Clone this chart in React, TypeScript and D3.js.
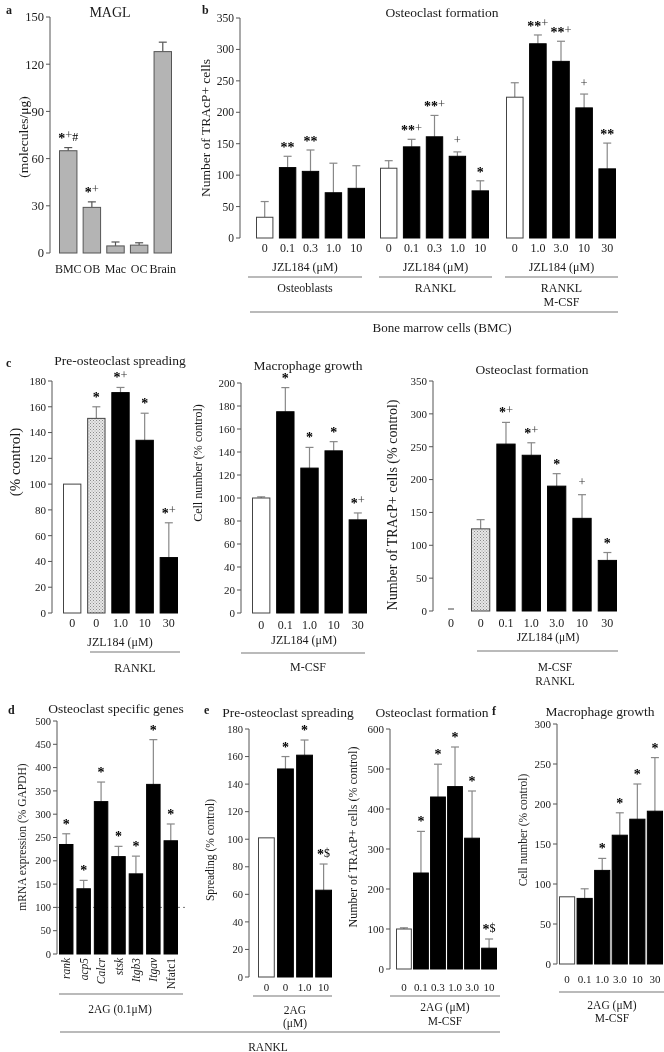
import React from "react";
import * as d3 from "d3";

// ---------- Panel a: MAGL ----------
const aCats = ["BMC", "OB", "Mac", "OC", "Brain"];
const aVals = [65, 29, 4.5, 5, 128];
const aErr = [67, 32.5, 7, 6.5, 134];
const aMarks = ["*+#", "*+", "", "", ""];
const aTicks = [0, 30, 60, 90, 120, 150];

// ---------- Panel b: Osteoclast formation ----------
const bDoses = [
  ["0", "0.1", "0.3", "1.0", "10"],
  ["0", "0.1", "0.3", "1.0", "10"],
  ["0", "1.0", "3.0", "10", "30"],
];
const bVals = [
  [33, 112, 106, 72, 79],
  [111, 145, 161, 130, 75],
  [224, 309, 281, 207, 110],
];
const bErr = [
  [58, 130, 140, 119, 115],
  [123, 157, 195, 137, 91],
  [247, 323, 313, 229, 151],
];
const bMarks = [
  ["", "**", "**", "", ""],
  ["", "**+", "**+", "+", "*"],
  ["", "**+", "**+", "+", "**"],
];
const bGroups = [["Osteoblasts"], ["RANKL"], ["RANKL", "M-CSF"]];
const bTicks = [0, 50, 100, 150, 200, 250, 300, 350];

// ---------- Panel c ----------
const c1Labels = ["0", "0", "1.0", "10", "30"];
const c1Vals = [100, 151, 171, 134, 43];
const c1Err = [100, 160, 175, 155, 70];
const c1Marks = ["", "*", "*+", "*", "*+"];
const c1Fills = ["w", "h", "k", "k", "k"];
const c1Ticks = [0, 20, 40, 60, 80, 100, 120, 140, 160, 180];

const c2Labels = ["0", "0.1", "1.0", "10", "30"];
const c2Vals = [100, 175, 126, 141, 81];
const c2Err = [101, 196, 144, 149, 87];
const c2Marks = ["", "*", "*", "*", "*+"];
const c2Fills = ["w", "k", "k", "k", "k"];
const c2Ticks = [0, 20, 40, 60, 80, 100, 120, 140, 160, 180, 200];

const c3Labels = ["0", "0.1", "1.0", "3.0", "10", "30"];
const c3Vals = [125, 254, 237, 190, 141, 77];
const c3Err = [139, 287, 256, 209, 177, 89];
const c3Marks = ["", "*+", "*+", "*", "+", "*"];
const c3Fills = ["h", "k", "k", "k", "k", "k"];
const c3Ctrl = [0];
const c3Ticks = [0, 50, 100, 150, 200, 250, 300, 350];

// ---------- Panel d ----------
const dGenes = ["rank", "acp5", "Calcr", "stsk", "Itgb3", "Itgav", "Nfatc1"];
const dItalic = [true, true, true, true, true, true, false];
const dVals = [235, 140, 327, 209, 172, 364, 243];
const dErr = [258, 158, 369, 231, 210, 460, 279];
const dMarks = ["*", "*", "*", "*", "*", "*", "*"];
const dTicks = [0, 50, 100, 150, 200, 250, 300, 350, 400, 450, 500];
const dRef = 100;

// ---------- Panel e ----------
const e1Labels = ["0", "0", "1.0", "10"];
const e1Vals = [101, 151, 161, 63];
const e1Err = [101, 160, 172, 82];
const e1Marks = ["", "*", "*", "*$"];
const e1Fills = ["w", "k", "k", "k"];
const e1Ticks = [0, 20, 40, 60, 80, 100, 120, 140, 160, 180];

const e2Labels = ["0", "0.1", "0.3", "1.0", "3.0", "10"];
const e2Vals = [100, 240, 430, 456, 327, 52];
const e2Err = [103, 344, 512, 555, 445, 75];
const e2Marks = ["", "*", "*", "*", "*", "*$"];
const e2Fills = ["w", "k", "k", "k", "k", "k"];
const e2Ticks = [0, 100, 200, 300, 400, 500, 600];

// ---------- Panel f ----------
const fLabels = ["0", "0.1", "1.0", "3.0", "10", "30"];
const fVals = [84, 82, 117, 161, 181, 191];
const fErr = [84, 94, 132, 189, 225, 258];
const fMarks = ["", "", "*", "*", "*", "*"];
const fFills = ["w", "k", "k", "k", "k", "k"];
const fTicks = [0, 50, 100, 150, 200, 250, 300];

const FONT = "'Liberation Serif', 'Times New Roman', serif";
const TXT = "#1a1a1a";
const AX = "#555";
const ERRC = "#888";

function band(n: number, r0: number, r1: number, pi: number) {
  return d3.scaleBand<number>().domain(d3.range(n)).range([r0, r1]).paddingInner(pi).paddingOuter(0);
}

function fillOf(k: string) {
  if (k === "w") return "#ffffff";
  if (k === "h") return "url(#dots)";
  if (k === "g") return "#b4b4b4";
  return "#000000";
}

// vertical offset of each symbol relative to the asterisk baseline
function symOffset(ch: string) {
  if (ch === "*") return 2;
  if (ch === "+") return -1.5;
  return 0;
}

function Mark({ x, y, s }: { x: number; y: number; s: string }) {
  if (!s) return null;
  let cur = 0;
  return (
    <text x={x} y={y} textAnchor="middle" dy="0.35em" fontFamily={FONT} fill="#000">
      {s.split("").map((ch, i) => {
        const target = symOffset(ch);
        const d = target - cur;
        cur = target;
        return ch === "*" ? (
          <tspan key={i} fontSize={14} fontWeight="bold" dy={d}>{ch}</tspan>
        ) : (
          <tspan key={i} dy={d} fontSize={ch === "+" ? 12.5 : 12} fill={ch === "+" ? "#333" : "#000"}>{ch}</tspan>
        );
      })}
    </text>
  );
}

function YAxis({ x, y, ticks, fs }: { x: number; y: any; ticks: number[]; fs: number }) {
  return (
    <g>
      <line x1={x} x2={x} y1={y(ticks[0])} y2={y(ticks[ticks.length - 1])} stroke={AX} />
      {ticks.map((t) => (
        <g key={t}>
          <line x1={x - 4} x2={x} y1={y(t)} y2={y(t)} stroke={AX} />
          <text x={x - 6} y={y(t)} dy="0.35em" textAnchor="end" fontSize={fs} fontFamily={FONT} fill={TXT}>
            {t}
          </text>
        </g>
      ))}
    </g>
  );
}

function Bars({
  xs, y, vals, errs, fills, marks, errColor = ERRC, stroke = "#444", markGap = 7,
}: {
  xs: any; y: any; vals: number[]; errs: number[]; fills: string[]; marks: string[];
  errColor?: string; stroke?: string; markGap?: number;
}) {
  const w = xs.bandwidth();
  return (
    <g>
      {vals.map((v, i) => {
        const x0 = xs(i);
        const cx = x0 + w / 2;
        const top = y(v);
        const base = y(0);
        const et = y(errs[i]);
        const f = fills[i];
        return (
          <g key={i}>
            {errs[i] > v && (
              <g stroke={errColor} strokeWidth={1.2}>
                <line x1={cx} x2={cx} y1={top} y2={et} />
                <line x1={cx - 4} x2={cx + 4} y1={et} y2={et} />
              </g>
            )}
            <rect
              x={x0 + 0.5}
              y={top}
              width={w - 1}
              height={base - top}
              fill={fillOf(f)}
              stroke={f === "k" ? "#000" : stroke}
              strokeWidth={1}
            />
            <Mark x={cx} y={et - markGap} s={marks[i]} />
          </g>
        );
      })}
    </g>
  );
}

function Txt({ x, y, s, fs = 12, anchor = "middle", weight = "normal", italic = false }: any) {
  return (
    <text x={x} y={y} dy="0.35em" textAnchor={anchor} fontSize={fs} fontFamily={FONT} fill={TXT}
      fontWeight={weight} fontStyle={italic ? "italic" : "normal"}>
      {s}
    </text>
  );
}

function VTxt({ x, y, s, fs = 12 }: any) {
  return (
    <text transform={`translate(${x},${y}) rotate(-90)`} dy="0.35em" textAnchor="middle" fontSize={fs}
      fontFamily={FONT} fill={TXT}>
      {s}
    </text>
  );
}

function HLine({ x1, x2, y, c = "#777" }: any) {
  return <line x1={x1} x2={x2} y1={y} y2={y} stroke={c} strokeWidth={1.2} />;
}

function XLabels({ xs, labels, y, fs = 11.5 }: any) {
  return (
    <g>
      {labels.map((l: string, i: number) => (
        <Txt key={i} x={xs(i) + xs.bandwidth() / 2} y={y} s={l} fs={fs} />
      ))}
    </g>
  );
}

export default function App() {
  // ----- a -----
  const ay = d3.scaleLinear().domain([0, 150]).range([253, 17]);
  const ax = band(aCats.length, 59, 172, 0.22);

  // ----- b -----
  const by = d3.scaleLinear().domain([0, 350]).range([238, 18]);
  const bRanges = [[256, 365], [380, 489], [506, 616]];
  const bLines = [[248, 362], [379, 492], [505, 618]];
  const bxs = bRanges.map((r) => band(5, r[0], r[1], 0.24));

  // ----- c -----
  const c1y = d3.scaleLinear().domain([0, 180]).range([613, 381]);
  const c1x = band(c1Vals.length, 63, 178, 0.24);
  const c2y = d3.scaleLinear().domain([0, 200]).range([613, 383]);
  const c2x = band(c2Vals.length, 252, 367, 0.24);
  const c3y = d3.scaleLinear().domain([0, 350]).range([611, 381]);
  const c3x = band(c3Vals.length, 471, 617, 0.24);
  const c3c = band(1, 442, 460, 0);

  // ----- d -----
  const dy = d3.scaleLinear().domain([0, 500]).range([954, 721]);
  const dx = band(dVals.length, 59, 178, 0.17);

  // ----- e -----
  const e1y = d3.scaleLinear().domain([0, 180]).range([977, 729]);
  const e1x = band(e1Vals.length, 258, 332, 0.12);
  const e2y = d3.scaleLinear().domain([0, 600]).range([969, 729]);
  const e2x = band(e2Vals.length, 396, 497, 0.07);

  // ----- f -----
  const fy = d3.scaleLinear().domain([0, 300]).range([964, 724]);
  const fx = band(fVals.length, 559, 663, 0.08);

  return (
    <svg width={664} height={1052}
      style={{ position: "absolute", left: 0, top: 0, background: "#fff", willChange: "transform" }}>
      <defs>
        <pattern id="dots" width="3" height="3" patternUnits="userSpaceOnUse">
          <rect width="3" height="3" fill="#e6e6e6" />
          <rect x="0" y="0" width="1" height="1" fill="#8a8a8a" />
          <rect x="1.5" y="1.5" width="1" height="1" fill="#a0a0a0" />
        </pattern>
      </defs>
      <rect width={664} height={1052} fill="#fff" />

      {/* ===== Panel a ===== */}
      <Txt x={6} y={10} s="a" fs={12} weight="bold" anchor="start" />
      <Txt x={110} y={12} s="MAGL" fs={14} />
      <VTxt x={23} y={137} s="(molecules/μg)" fs={13.5} />
      <YAxis x={50} y={ay} ticks={aTicks} fs={12.5} />
      <Bars xs={ax} y={ay} vals={aVals} errs={aErr} fills={aCats.map(() => "g")} marks={aMarks}
        errColor="#555" stroke="#555" />
      <XLabels xs={ax} labels={aCats} y={269} fs={12} />

      {/* ===== Panel b ===== */}
      <Txt x={202} y={10} s="b" fs={12} weight="bold" anchor="start" />
      <Txt x={442} y={12} s="Osteoclast formation" fs={13.5} />
      <VTxt x={205} y={128} s="Number of TRAcP+ cells" fs={13.5} />
      <YAxis x={240} y={by} ticks={bTicks} fs={11.5} />
      {bxs.map((xs, g) => (
        <g key={g}>
          <Bars xs={xs} y={by} vals={bVals[g]} errs={bErr[g]} fills={bVals[g].map((_, i) => (i === 0 ? "w" : "k"))}
            marks={bMarks[g]} markGap={6} />
          <XLabels xs={xs} labels={bDoses[g]} y={248} fs={12} />
          <Txt x={(bLines[g][0] + bLines[g][1]) / 2} y={267} s="JZL184 (μM)" fs={12} />
          <HLine x1={bLines[g][0]} x2={bLines[g][1]} y={277} />
          {bGroups[g].map((s, k) => (
            <Txt key={k} x={(bLines[g][0] + bLines[g][1]) / 2} y={288 + k * 14} s={s} fs={12} />
          ))}
        </g>
      ))}
      <HLine x1={250} x2={618} y={312} />
      <Txt x={442} y={327} s="Bone marrow cells (BMC)" fs={13} />

      {/* ===== Panel c ===== */}
      <Txt x={6} y={363} s="c" fs={12} weight="bold" anchor="start" />
      <Txt x={120} y={360} s="Pre-osteoclast spreading" fs={13.5} />
      <VTxt x={15} y={462} s="(% control)" fs={15} />
      <YAxis x={52} y={c1y} ticks={c1Ticks} fs={11} />
      <Bars xs={c1x} y={c1y} vals={c1Vals} errs={c1Err} fills={c1Fills} marks={c1Marks} />
      <XLabels xs={c1x} labels={c1Labels} y={623} fs={12} />
      <Txt x={120} y={642} s="JZL184 (μM)" fs={12} />
      <HLine x1={90} x2={180} y={652} />
      <Txt x={135} y={668} s="RANKL" fs={12} />

      <Txt x={308} y={365} s="Macrophage growth" fs={13.5} />
      <VTxt x={198} y={463} s="Cell number (% control)" fs={12} />
      <YAxis x={241} y={c2y} ticks={c2Ticks} fs={11} />
      <Bars xs={c2x} y={c2y} vals={c2Vals} errs={c2Err} fills={c2Fills} marks={c2Marks} />
      <XLabels xs={c2x} labels={c2Labels} y={625} fs={12} />
      <Txt x={304} y={640} s="JZL184 (μM)" fs={12} />
      <HLine x1={241} x2={365} y={653} />
      <Txt x={308} y={667} s="M-CSF" fs={12} />

      <Txt x={532} y={369} s="Osteoclast formation" fs={13.5} />
      <VTxt x={392} y={505} s="Number of TRAcP+ cells (% control)" fs={14} />
      <YAxis x={433} y={c3y} ticks={c3Ticks} fs={11} />
      {c3Ctrl.map((v, i) => (
        <g key={i}>
          <line x1={c3c(i)! + c3c.bandwidth() / 2 - 3} x2={c3c(i)! + c3c.bandwidth() / 2 + 3}
            y1={c3y(v) - 2} y2={c3y(v) - 2} stroke="#444" />
          <Txt x={c3c(i)! + c3c.bandwidth() / 2} y={623} s="0" fs={12} />
        </g>
      ))}
      <Bars xs={c3x} y={c3y} vals={c3Vals} errs={c3Err} fills={c3Fills} marks={c3Marks} />
      <XLabels xs={c3x} labels={c3Labels} y={623} fs={12} />
      <Txt x={548} y={637} s="JZL184 (μM)" fs={11.5} />
      <HLine x1={477} x2={618} y={651} />
      <Txt x={555} y={667} s="M-CSF" fs={11.5} />
      <Txt x={555} y={681} s="RANKL" fs={11.5} />

      {/* ===== Panel d ===== */}
      <Txt x={8} y={710} s="d" fs={12} weight="bold" anchor="start" />
      <Txt x={116} y={708} s="Osteoclast specific genes" fs={13.5} />
      <VTxt x={22} y={837} s="mRNA expression (% GAPDH)" fs={11.5} />
      <YAxis x={57} y={dy} ticks={dTicks} fs={10.5} />
      <line x1={57} x2={185} y1={dy(dRef)} y2={dy(dRef)} stroke="#777" strokeDasharray="3,3" />
      <Bars xs={dx} y={dy} vals={dVals} errs={dErr} fills={dVals.map(() => "k")} marks={dMarks} />
      {dGenes.map((g, i) => (
        <text key={g} transform={`translate(${dx(i)! + dx.bandwidth() / 2},${958}) rotate(-90)`} dy="0.35em"
          textAnchor="end" fontSize={11.5} fontFamily={FONT} fill={TXT} fontStyle={dItalic[i] ? "italic" : "normal"}>
          {g}
        </text>
      ))}
      <HLine x1={59} x2={183} y={994} />
      <Txt x={120} y={1009} s="2AG (0.1μM)" fs={11.5} />
      <HLine x1={60} x2={500} y={1032} />
      <Txt x={268} y={1047} s="RANKL" fs={11.5} />

      {/* ===== Panel e ===== */}
      <Txt x={204} y={710} s="e" fs={12} weight="bold" anchor="start" />
      <Txt x={288} y={712} s="Pre-osteoclast spreading" fs={13.5} />
      <VTxt x={210} y={850} s="Spreading (% control)" fs={11.5} />
      <YAxis x={249} y={e1y} ticks={e1Ticks} fs={10.5} />
      <Bars xs={e1x} y={e1y} vals={e1Vals} errs={e1Err} fills={e1Fills} marks={e1Marks} />
      <XLabels xs={e1x} labels={e1Labels} y={987} fs={11} />
      <HLine x1={253} x2={332} y={996} />
      <Txt x={295} y={1010} s="2AG" fs={11.5} />
      <Txt x={295} y={1023} s="(μM)" fs={11.5} />

      <Txt x={432} y={712} s="Osteoclast formation" fs={13.5} />
      <VTxt x={353} y={837} s="Number of TRAcP+ cells (% control)" fs={12} />
      <YAxis x={390} y={e2y} ticks={e2Ticks} fs={11} />
      <Bars xs={e2x} y={e2y} vals={e2Vals} errs={e2Err} fills={e2Fills} marks={e2Marks} />
      <XLabels xs={e2x} labels={e2Labels} y={987} fs={11} />
      <HLine x1={390} x2={500} y={996} />
      <Txt x={445} y={1007} s="2AG (μM)" fs={11.5} />
      <Txt x={445} y={1021} s="M-CSF" fs={11.5} />

      {/* ===== Panel f ===== */}
      <Txt x={492} y={711} s="f" fs={12} weight="bold" anchor="start" />
      <Txt x={600} y={711} s="Macrophage growth" fs={13.5} />
      <VTxt x={523} y={830} s="Cell number (% control)" fs={11.5} />
      <YAxis x={557} y={fy} ticks={fTicks} fs={11} />
      <Bars xs={fx} y={fy} vals={fVals} errs={fErr} fills={fFills} marks={fMarks} />
      <XLabels xs={fx} labels={fLabels} y={979} fs={11} />
      <HLine x1={559} x2={664} y={992} />
      <Txt x={612} y={1005} s="2AG (μM)" fs={11.5} />
      <Txt x={612} y={1018} s="M-CSF" fs={11.5} />
    </svg>
  );
}
